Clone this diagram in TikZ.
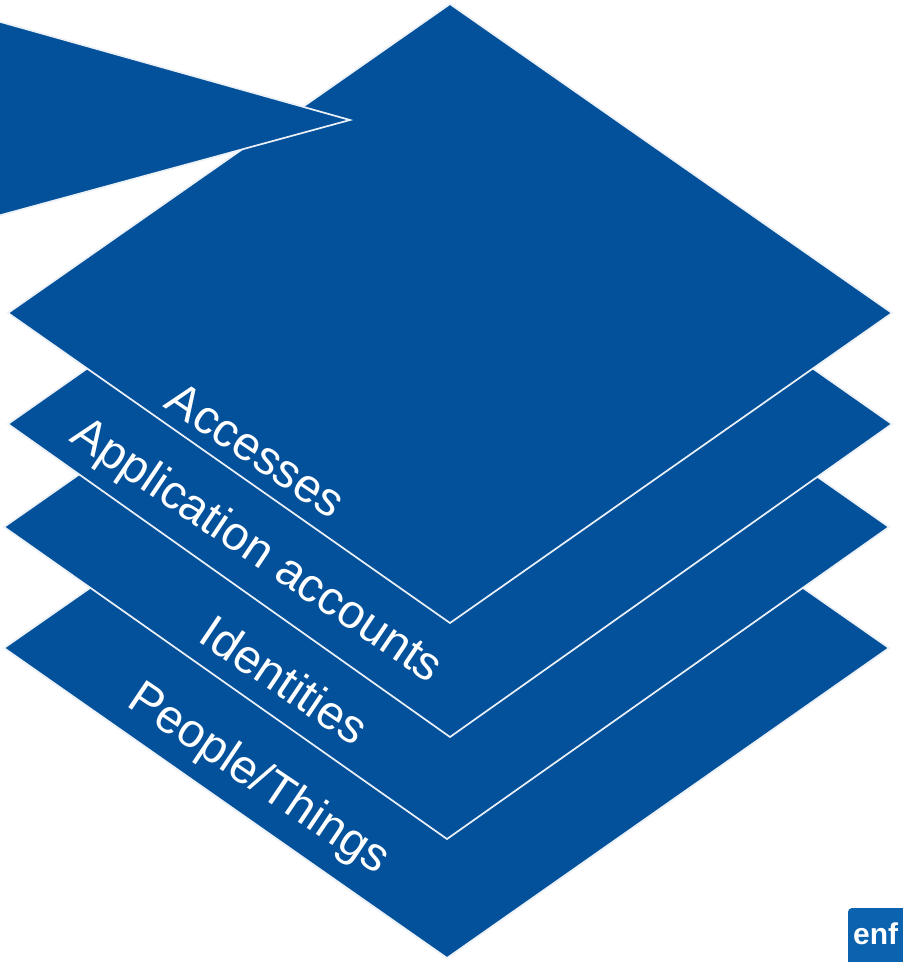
\documentclass[tikz,border=0pt]{standalone}
\usepackage{fontspec}
\setmainfont{Liberation Sans}
\definecolor{layerblue}{HTML}{03519B}
\definecolor{logoblue}{HTML}{0B62AE}
\tikzset{
  layer/.style={fill=layerblue,draw=white!92!layerblue,line width=1.7pt,line join=miter},
  layerlabel/.style={text=white,font=\fontsize{47.5}{47.5}\selectfont,rotate=-34,inner sep=0pt,anchor=center},
}
\begin{document}
\begin{tikzpicture}[x=1pt,y=-1pt]
\useasboundingbox (0,0) rectangle (903,962);
\clip (0,0) rectangle (903,962);
\fill[white] (0,0) rectangle (903,962);
\draw[layer] (4,648) -- (447,339) -- (889,648) -- (447,958) -- cycle;
\draw[layer] (4,527) -- (447,217) -- (889,527) -- (447,839) -- cycle;
\draw[layer] (8,424) -- (450,114) -- (892,424) -- (450,737) -- cycle;
\draw[layer] (8,313) -- (450,4) -- (892,313) -- (450,623) -- cycle;
\draw[layer] (-10,19) -- (350,120) -- (-10,218) -- cycle;
\node[layerlabel] (accesses) at (256,450) {Accesses};
\node[layerlabel] (apps) at (256,552) {Application accounts};
\node[layerlabel] (identities) at (285,680) {Identities};
\node[layerlabel] (people) at (258,780) {People/Things};
\fill[logoblue,rounded corners=4pt] (848,908) rectangle (920,980);
\node[text=white,font=\bfseries\fontsize{30}{30}\selectfont,anchor=base west,inner sep=0pt] (logo) at (853,944) {enf};
\end{tikzpicture}
\end{document}
